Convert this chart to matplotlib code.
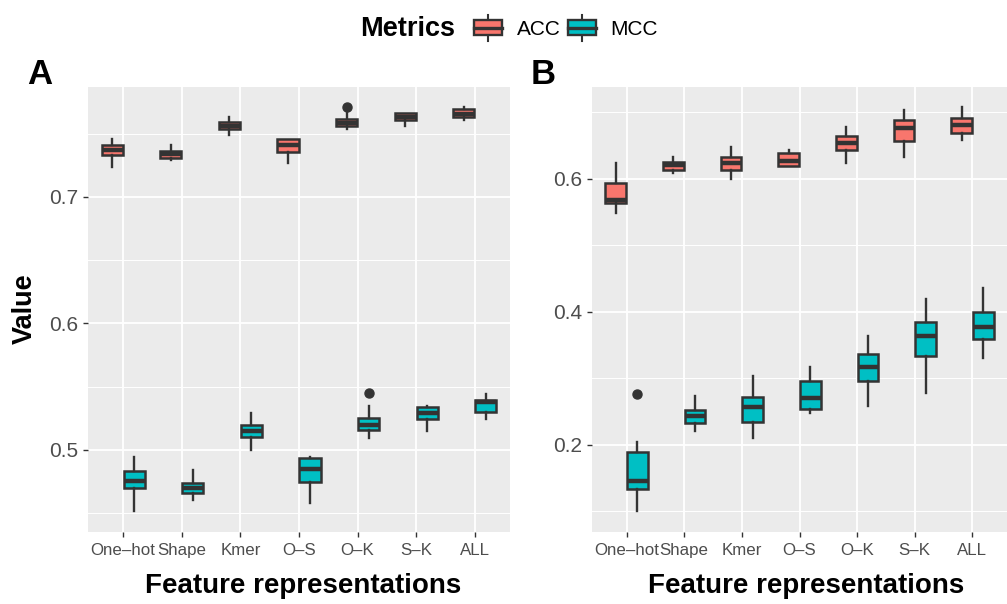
import numpy as np
import matplotlib
matplotlib.use('Agg')
import matplotlib.pyplot as plt
from matplotlib.patches import Rectangle
from matplotlib.lines import Line2D
from matplotlib.legend_handler import HandlerBase

plt.rcParams['font.family'] = ['Liberation Sans', 'DejaVu Sans']

features = ['One–hot', 'Shape', 'Kmer', 'O–S', 'O–K', 'S–K', 'ALL']

# panel A: five-number summaries per feature set
a_acc_lo = [0.724, 0.729, 0.749, 0.727, 0.754, 0.756, 0.761]
a_acc_q1 = [0.733, 0.731, 0.7535, 0.7356, 0.7561, 0.7606, 0.7635]
a_acc_med = [0.737, 0.734, 0.7564, 0.7409, 0.7589, 0.7636, 0.7654]
a_acc_q3 = [0.741, 0.7366, 0.7593, 0.7461, 0.7617, 0.7662, 0.7693]
a_acc_hi = [0.746, 0.741, 0.7635, 0.7461, 0.7662, 0.7665, 0.7709]
a_acc_out = [[], [], [], [], [0.7714], [], []]

a_mcc_lo = [0.4518, 0.4605, 0.4998, 0.4583, 0.5097, 0.515, 0.5247]
a_mcc_q1 = [0.4702, 0.4655, 0.5105, 0.4745, 0.5158, 0.5243, 0.530]
a_mcc_med = [0.475, 0.4697, 0.5148, 0.4847, 0.520, 0.529, 0.538]
a_mcc_q3 = [0.4836, 0.4739, 0.5198, 0.4937, 0.5248, 0.5338, 0.5398]
a_mcc_hi = [0.4947, 0.4844, 0.5292, 0.4942, 0.5345, 0.5345, 0.5443]
a_mcc_out = [[], [], [], [], [0.5451], [], []]

# panel B
b_acc_lo = [0.5489, 0.609, 0.599, 0.619, 0.6241, 0.6335, 0.6586]
b_acc_q1 = [0.5639, 0.6135, 0.6131, 0.6191, 0.6436, 0.6561, 0.6692]
b_acc_med = [0.5684, 0.621, 0.6236, 0.6271, 0.6537, 0.6762, 0.6812]
b_acc_q3 = [0.593, 0.6251, 0.6331, 0.6386, 0.6642, 0.6877, 0.6913]
b_acc_hi = [0.6236, 0.6326, 0.6477, 0.6426, 0.6777, 0.7027, 0.7078]
b_acc_out = [[], [], [], [], [], [], []]

b_mcc_lo = [0.1008, 0.2211, 0.2101, 0.2486, 0.2582, 0.2777, 0.3313]
b_mcc_q1 = [0.1338, 0.2331, 0.2341, 0.2541, 0.2967, 0.3334, 0.359]
b_mcc_med = [0.1463, 0.244, 0.2567, 0.2707, 0.3177, 0.3644, 0.377]
b_mcc_q3 = [0.1895, 0.2522, 0.2726, 0.2962, 0.3364, 0.385, 0.4]
b_mcc_hi = [0.204, 0.2732, 0.3038, 0.3168, 0.3635, 0.4195, 0.4356]
b_mcc_out = [[0.2767], [], [], [], [], [], []]

ACC_COL = '#F8766D'
MCC_COL = '#00BFC4'
DARK = '#333333'


def make_stats(lo, q1, med, q3, hi, out):
    return [dict(whislo=l, q1=a, med=m, q3=b, whishi=h, fliers=f)
            for l, a, m, b, h, f in zip(lo, q1, med, q3, hi, out)]


def draw_boxes(ax, stats, pos, color):
    ax.bxp(stats, positions=pos, widths=0.36, patch_artist=True,
           showcaps=False, manage_ticks=False,
           boxprops=dict(facecolor=color, edgecolor=DARK, linewidth=1.8),
           medianprops=dict(color=DARK, linewidth=3.2, solid_capstyle='butt'),
           whiskerprops=dict(color=DARK, linewidth=1.7),
           flierprops=dict(marker='o', markerfacecolor=DARK, markeredgecolor=DARK,
                           markersize=6.5))


def style_panel(ax, ylim, yticks, yminor):
    ax.set_facecolor('#EBEBEB')
    for s in ax.spines.values():
        s.set_visible(False)
    ax.set_xlim(0.4, 7.6)
    ax.set_ylim(*ylim)
    ax.set_xticks(np.arange(1, 8))
    ax.set_xticklabels(features, fontsize=12.2, color='#4D4D4D')
    ax.set_yticks(yticks)
    ax.set_yticklabels([f'{t:.1f}' for t in yticks], fontsize=15, color='#4D4D4D')
    ax.set_yticks(yminor, minor=True)
    ax.tick_params(which='major', length=3.6, width=1.0, color=DARK)
    ax.tick_params(axis='y', pad=3.5)
    ax.tick_params(axis='x', pad=4.5)
    ax.tick_params(which='minor', length=0)
    ax.set_axisbelow(True)
    ax.grid(which='major', color='white', linewidth=1.3)
    ax.grid(which='minor', axis='y', color='white', linewidth=0.7)


class BoxKey(HandlerBase):
    def create_artists(self, legend, orig_handle, xdescent, ydescent,
                       width, height, fontsize, trans):
        fc = orig_handle.get_facecolor()
        x0, y0 = -xdescent, -ydescent
        cx = x0 + width / 2
        top = y0 + height * 1.25
        bot = y0 - height * 0.25
        whisk = Line2D([cx, cx], [bot, top], color=DARK, lw=1.5, transform=trans)
        box = Rectangle((x0, y0 + height * 0.08), width, height * 0.84,
                        facecolor=fc, edgecolor=DARK, lw=1.7, transform=trans)
        mid = Line2D([x0, x0 + width], [y0 + height / 2] * 2, color=DARK,
                     lw=2.4, transform=trans)
        return [whisk, box, mid]


fig = plt.figure(figsize=(10.07, 6.04), dpi=100)
W, H = 1007, 604
axA = fig.add_axes([88 / W, (H - 532) / H, 422 / W, 445 / H])
axB = fig.add_axes([592 / W, (H - 532) / H, 415 / W, 445 / H])

x = np.arange(1, 8)
draw_boxes(axA, make_stats(a_acc_lo, a_acc_q1, a_acc_med, a_acc_q3, a_acc_hi, a_acc_out), x - 0.1875, ACC_COL)
draw_boxes(axA, make_stats(a_mcc_lo, a_mcc_q1, a_mcc_med, a_mcc_q3, a_mcc_hi, a_mcc_out), x + 0.1875, MCC_COL)
draw_boxes(axB, make_stats(b_acc_lo, b_acc_q1, b_acc_med, b_acc_q3, b_acc_hi, b_acc_out), x - 0.1875, ACC_COL)
draw_boxes(axB, make_stats(b_mcc_lo, b_mcc_q1, b_mcc_med, b_mcc_q3, b_mcc_hi, b_mcc_out), x + 0.1875, MCC_COL)

style_panel(axA, (0.435, 0.787), [0.5, 0.6, 0.7], [0.45, 0.55, 0.65, 0.75])
style_panel(axB, (0.069, 0.738), [0.2, 0.4, 0.6], [0.1, 0.3, 0.5, 0.7])

# titles and panel tags
fig.text(25 / W, 1 - 309 / H, 'Value', rotation=90, ha='center', va='center',
         fontsize=19.5, fontweight='bold')
fig.text(303 / W, 1 - 586 / H, 'Feature representations', ha='center', va='center',
         fontsize=20, fontweight='bold')
fig.text(806 / W, 1 - 586 / H, 'Feature representations', ha='center', va='center',
         fontsize=20, fontweight='bold')
fig.text(40 / W, 1 - 75 / H, 'A', ha='center', va='center', fontsize=25, fontweight='bold')
fig.text(543 / W, 1 - 75 / H, 'B', ha='center', va='center', fontsize=25, fontweight='bold')

# legend across the top
fig.text(455 / W, 1 - 29 / H, 'Metrics', ha='right', va='center',
         fontsize=19.5, fontweight='bold')
handles = [Rectangle((0, 0), 1, 1, facecolor=ACC_COL), Rectangle((0, 0), 1, 1, facecolor=MCC_COL)]
fig.legend(handles, ['ACC', 'MCC'], handler_map={Rectangle: BoxKey()},
           loc='center left', bbox_to_anchor=(474 / W, 1 - 29 / H), ncol=2,
           frameon=False, fontsize=15, borderpad=0, borderaxespad=0,
           handlelength=1.35, handleheight=0.9, handletextpad=0.7, columnspacing=0.35)

fig.savefig('out.png', dpi=100)
